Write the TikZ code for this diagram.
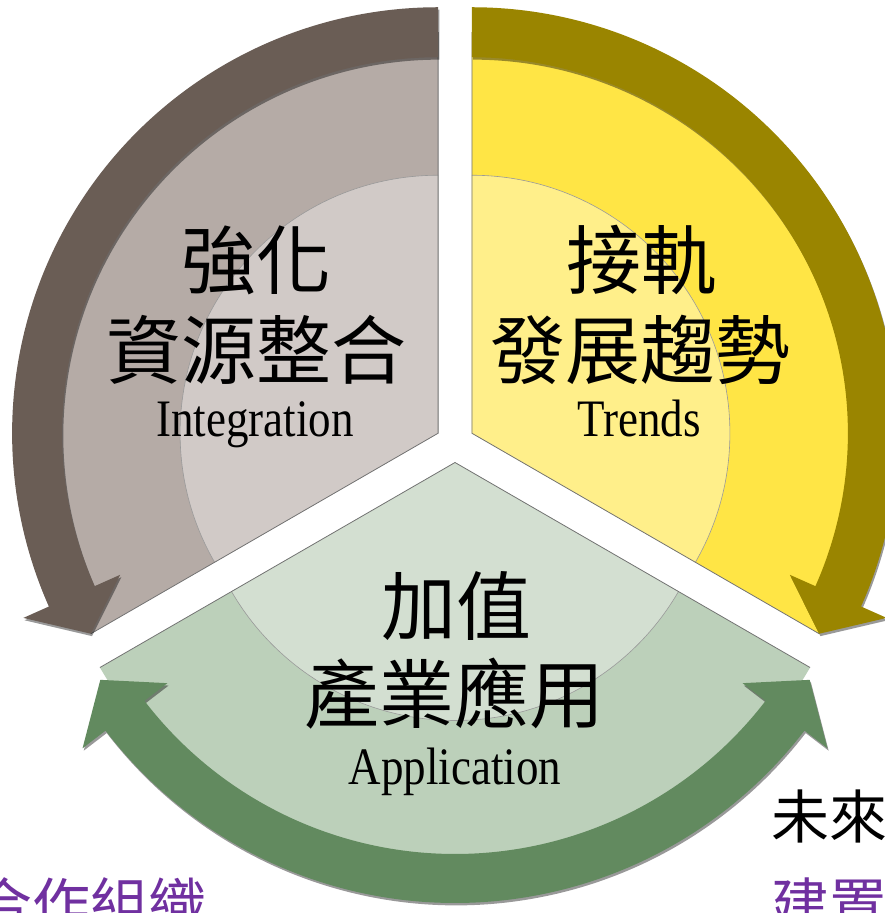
\documentclass[tikz,border=0pt]{standalone}
\usepackage{fontspec}
\setmainfont{Liberation Serif}
\newfontfamily\cjk{Noto Sans CJK TC}
\usetikzlibrary{shadows}

\definecolor{intDark}{HTML}{6A5D55}
\definecolor{intMid}{HTML}{B5ABA6}
\definecolor{intLight}{HTML}{D1CAC7}
\definecolor{trdDark}{HTML}{9A8500}
\definecolor{trdMid}{HTML}{FFE545}
\definecolor{trdLight}{HTML}{FFEF8A}
\definecolor{appDark}{HTML}{628A5F}
\definecolor{appMid}{HTML}{BCD0BA}
\definecolor{appLight}{HTML}{D3DFD1}
\definecolor{notePurple}{HTML}{7030A0}

\tikzset{
  sectoredge/.style={draw=black!55, line width=0.8pt},
  discedge/.style={draw=black!40, line width=0.6pt},
  bandshadow/.style={drop shadow={shadow xshift=1.2pt, shadow yshift=-2.4pt, opacity=0.4, fill=black}},
  bigcjk/.style={font=\cjk\fontsize{75}{82}\selectfont, inner sep=0pt},
  latinlbl/.style={font=\fontsize{45}{50}\selectfont, inner sep=0pt, anchor=base},
  notecjk/.style={font=\cjk\fontsize{58}{64}\selectfont, inner sep=0pt},
}

\begin{document}
\begin{tikzpicture}[x=1pt,y=1pt]
    \useasboundingbox (0,0) rectangle (884,913);
    % centres of the three exploded segments
    \coordinate (gc) at (438.1,479.75);
    \coordinate (yc) at (471.9,479.75);
    \coordinate (ac) at (455,450.5);

    % segments with their lighter inner disc
    \foreach \c/\s/\r/\mid/\lt in {gc/90/401/intMid/intLight, yc/-30/401/trdMid/trdLight, ac/210/410/appMid/appLight} {
        \begin{scope}[shift={(\c)}]
            \fill[\mid] (0,0) -- (\s:\r) arc[start angle=\s, delta angle=120, radius=\r] -- cycle;
            \begin{scope}
                \clip (0,0) -- (\s:\r) arc[start angle=\s, delta angle=120, radius=\r] -- cycle;
                \filldraw[fill=\lt, discedge] (0,0) circle[radius=258];
            \end{scope}
            \draw[sectoredge] (\s:\r) -- (0,0) -- (\s+120:\r);
        \end{scope}
    }

    % curved arrows
    \begin{scope}[shift={(gc)}]
        \fill[intDark, bandshadow] (90:426) arc[start angle=90, end angle=204, radius=426] -- (204:454) -- (210:401) -- (204:348)
            -- (204:376) arc[start angle=204, end angle=90, radius=376] -- cycle;
    \end{scope}
    \begin{scope}[shift={(yc)}]
        \fill[trdDark, bandshadow] (90:426) arc[start angle=90, end angle=-24, radius=426] -- (-24:454) -- (-30:401) -- (-24:348)
            -- (-24:376) arc[start angle=-24, end angle=90, radius=376] -- cycle;
    \end{scope}
    \begin{scope}[shift={(ac)}]
        \fill[appDark, bandshadow] (217.5:440.5) arc[start angle=217.5, end angle=322.5, radius=440.5] -- (322.5:469.5) -- (328.5:416) -- (322.5:362.5)
            -- (322.5:391.5) arc[start angle=322.5, end angle=217.5, radius=391.5] -- (217.5:362.5) -- (211.5:416) -- (217.5:469.5) -- cycle;
    \end{scope}

    % labels
    \node[bigcjk] (intA) at (256,653) {強化};
    \node[bigcjk] (intB) at (256,563) {資源整合};
    \node[latinlbl] (intC) at (255,476) {\scalebox{1}[1.17]{Integration}};

    \node[bigcjk] (trdA) at (641,653) {接軌};
    \node[bigcjk] (trdB) at (640,563) {發展趨勢};
    \node[latinlbl] (trdC) at (639,476) {\scalebox{1}[1.17]{Trends}};

    \node[bigcjk] (appA) at (456,307) {加值};
    \node[bigcjk] (appB) at (454,219) {產業應用};
    \node[latinlbl] (appC) at (455,128) {\scalebox{1}[1.17]{Application}};

    \node[notecjk, anchor=west] (futA) at (771,97) {未來};
    \node[notecjk, anchor=west, text=notePurple] (futB) at (771,9) {建置};
    \node[notecjk, anchor=east, text=notePurple] (orgA) at (207,9) {合作組織};
\end{tikzpicture}
\end{document}
